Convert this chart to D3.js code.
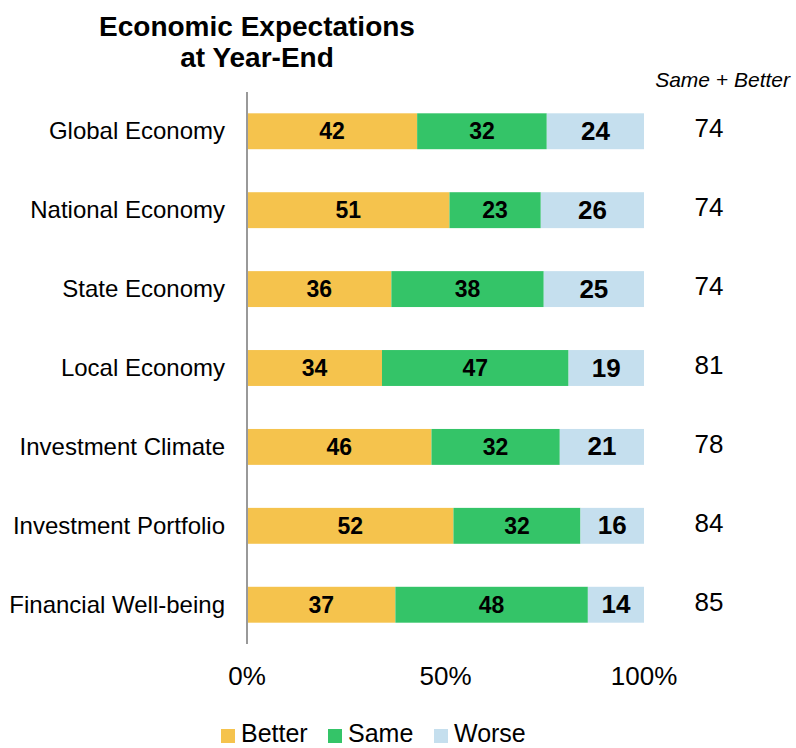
<!DOCTYPE html>
<html><head><meta charset="utf-8">
<script src="https://cdn.jsdelivr.net/npm/d3@7/dist/d3.min.js"></script>
<style>body{margin:0;background:#fff}svg{display:block;font-family:"Liberation Sans",Arial,sans-serif}</style>
</head><body><svg id="c" width="796" height="748"></svg>
<script>
const categories = ["Global Economy","National Economy","State Economy","Local Economy","Investment Climate","Investment Portfolio","Financial Well-being"];
const better = [42,51,36,34,46,52,37];
const same = [32,23,38,47,32,32,48];
const worse = [24,26,25,19,21,16,14];
const sameBetter = [74,74,74,81,78,84,85];
const seriesNames = ["Better","Same","Worse"];
const colors = ["#F5C34D","#34C468","#C5DFEE"];
const xTicks = [0,0.5,1];

const svg = d3.select("#c");
const rows = categories.map((c,i)=>({cat:c, Better:better[i], Same:same[i], Worse:worse[i], total:sameBetter[i]}));
const stack = d3.stack().keys(seriesNames).offset(d3.stackOffsetExpand)(rows);

const x = d3.scaleLinear().domain([0,1]).range([247,644]);
const y = d3.scaleBand().domain(categories).range([92,644]).paddingInner(0.545).paddingOuter(0.27);

// title
svg.append("text").attr("x",257).attr("y",36).attr("text-anchor","middle").attr("font-size",28).attr("font-weight","bold").text("Economic Expectations");
svg.append("text").attr("x",257).attr("y",67).attr("text-anchor","middle").attr("font-size",28).attr("font-weight","bold").text("at Year-End");

// bars
stack.forEach((s,si)=>{
  const g = svg.append("g");
  g.selectAll("rect").data(s).join("rect")
    .attr("x",d=>x(d[0])).attr("width",d=>x(d[1])-x(d[0]))
    .attr("y",d=>y(d.data.cat)).attr("height",y.bandwidth())
    .attr("fill",colors[si]);
  g.selectAll("text").data(s).join("text")
    .attr("x",d=>(x(d[0])+x(d[1]))/2)
    .attr("y",d=>y(d.data.cat)+y.bandwidth()/2)
    .attr("dy", si===2 ? "0.33em" : "0.35em")
    .attr("text-anchor","middle")
    .attr("font-weight","bold")
    .attr("font-size", si===2 ? 26 : 23)
    .attr("fill","#000")
    .text(d=>d.data[seriesNames[si]]);
});

// axis line
svg.append("line").attr("x1",247).attr("x2",247).attr("y1",92).attr("y2",644).attr("stroke","#999").attr("stroke-width",2);

// category labels
svg.append("g").selectAll("text").data(categories).join("text")
  .attr("x",225).attr("y",d=>y(d)+y.bandwidth()/2).attr("dy","0.34em")
  .attr("text-anchor","end").attr("font-size",24).attr("fill","#000").text(d=>d);

// totals
svg.append("text").attr("x",790).attr("y",87).attr("text-anchor","end").attr("font-size",21).attr("font-style","italic").text("Same + Better");
svg.append("g").selectAll("text").data(rows).join("text")
  .attr("x",709).attr("y",d=>y(d.cat)+y.bandwidth()/2).attr("dy","0.23em")
  .attr("text-anchor","middle").attr("font-size",26).text(d=>d.total);

// x ticks
svg.append("g").selectAll("text").data(xTicks).join("text")
  .attr("x",d=>x(d)).attr("y",685).attr("text-anchor","middle").attr("font-size",26)
  .text(d=>d3.format(".0%")(d));

// legend
const leg = [{n:"Better",x:221},{n:"Same",x:328},{n:"Worse",x:434}];
const lg = svg.append("g");
leg.forEach((l,i)=>{
  lg.append("rect").attr("x",l.x).attr("y",729).attr("width",14).attr("height",14).attr("fill",colors[i]);
  lg.append("text").attr("x",l.x+20).attr("y",742).attr("font-size",25).text(l.n);
});
</script></body></html>
